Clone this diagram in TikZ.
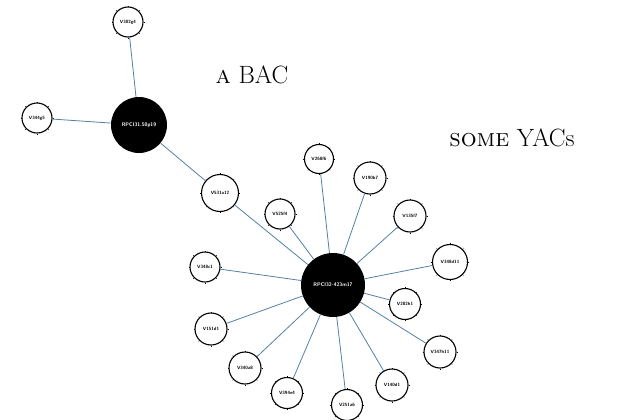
\documentclass[tikz,border=0pt]{standalone}
\usetikzlibrary{calc}
\begin{document}
\begin{tikzpicture}[x=1pt,y=-1pt,
  yac/.style={circle,draw=black,line width=1.1pt,fill=white,inner sep=0pt,
    font=\sffamily\bfseries\fontsize{4.6}{5}\selectfont},
  bac/.style={circle,fill=black,inner sep=0pt,text=white,
    font=\sffamily\bfseries\fontsize{5.2}{6}\selectfont},
  link/.style={draw={rgb,255:red,84;green,128;blue,166},line width=0.8pt},
  caption/.style={font=\fontsize{25}{28}\selectfont,anchor=base}]
\useasboundingbox (0,0) rectangle (618,420);

% BAC hubs
\node[bac,minimum size=56pt] (b1) at (139,125) {RPCI31.50p19};
\node[bac,minimum size=64pt] (b2) at (333,285) {RPCI32-423m17};

% YAC clones
\node[yac,minimum size=30pt] (y1)  at (128,22)  {V302g4};
\node[yac,minimum size=30pt] (y2)  at (37,118)  {V344g5};
\node[yac,minimum size=37pt] (y3)  at (220,193) {V531a12};
\node[yac,minimum size=29pt] (y4)  at (319,159) {V268f6};
\node[yac,minimum size=32pt] (y5)  at (370,178) {V190b7};
\node[yac,minimum size=32pt] (y6)  at (410,216) {V135f7};
\node[yac,minimum size=35pt] (y7)  at (450,262) {V348d11};
\node[yac,minimum size=30pt] (y8)  at (280,214) {V525f4};
\node[yac,minimum size=30pt] (y9)  at (205,267) {V348c1};
\node[yac,minimum size=32pt] (y10) at (211,329) {V151d1};
\node[yac,minimum size=32pt] (y11) at (245,368) {V340a8};
\node[yac,minimum size=31pt] (y12) at (287,393) {V394e4};
\node[yac,minimum size=31pt] (y13) at (347,405) {V251a6};
\node[yac,minimum size=32pt] (y14) at (392,385) {V140d1};
\node[yac,minimum size=32pt] (y15) at (440,352) {V347h11};
\node[yac,minimum size=31pt] (y16) at (405,304) {V282h1};

% small tick marks just outside each YAC circle
\foreach \n in {y1,y2,y3,y4,y5,y6,y7,y8,y9,y10,y11,y12,y13,y14,y15,y16}
  \foreach \a in {0,45,...,315}
    \draw[line width=0.5pt] (\n.\a) -- ($(\n.\a)!-0.9pt!(\n.center)$);

% links
\path[link] (b1) -- (y1);
\path[link] (b1) -- (y2);
\path[link] (b1) -- (y3);
\foreach \n in {y3,y4,y5,y6,y7,y8,y9,y10,y11,y12,y13,y14,y15,y16}
  \path[link] (b2) -- (\n);

% captions
\node[caption] (t1) at (252,83) {\textsc{a} BAC};
\node[caption] (t2) at (512,146) {\textsc{some} YACs};
\end{tikzpicture}
\end{document}
